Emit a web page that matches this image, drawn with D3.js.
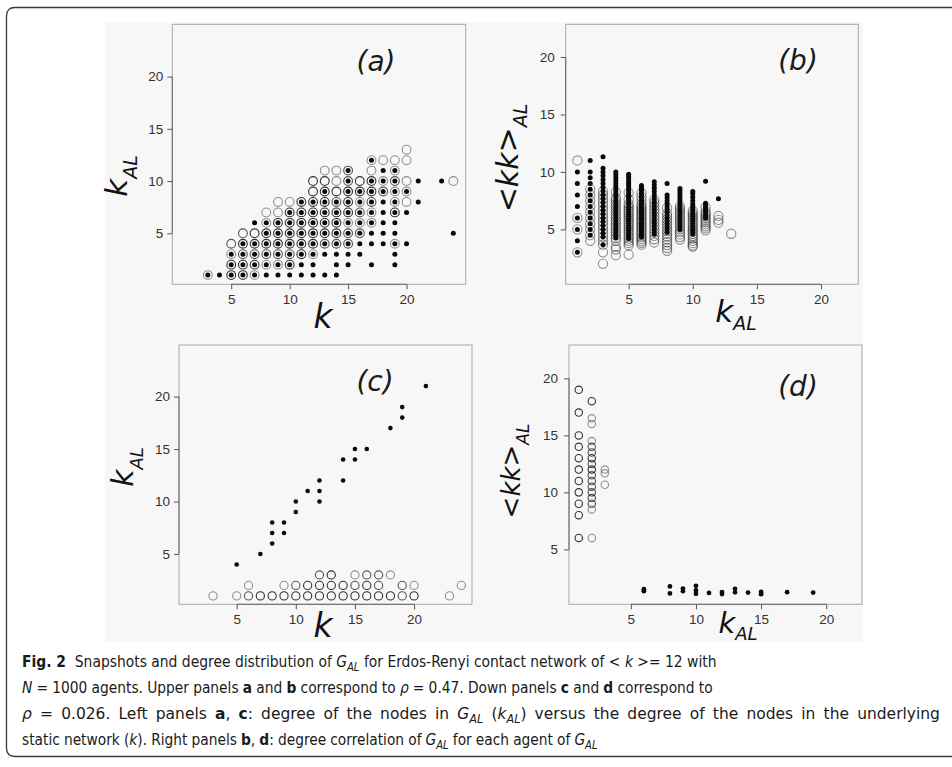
<!DOCTYPE html>
<html>
<head>
<meta charset="utf-8">
<script src="https://cdn.jsdelivr.net/npm/d3@7"></script>
<style>
  body { margin: 0; background: #fff; }
  text { white-space: pre; }
</style>
</head>
<body>
<svg id="fig" width="952" height="767"></svg>
<script>
// ---------------- data ----------------
const tickValues = [5, 10, 15, 20];

// (a) rho = 0.47 : degree k in static network vs degree k_AL in G_AL
// filled dots: [k, kAL]
const aDots = [
  [3,1],[4,1],[5,1],[6,1],[7,1],[8,1],[9,1],[10,1],[11,1],[12,1],[13,1],[14,1],
  [5,2],[6,2],[7,2],[8,2],[9,2],[10,2],[11,2],[12,2],[14,2],[15,2],[17,2],[19,2],
  [5,3],[6,3],[7,3],[8,3],[9,3],[10,3],[11,3],[12,3],[13,3],[14,3],[15,3],[16,3],[19,3],
  [6,4],[7,4],[8,4],[9,4],[10,4],[11,4],[12,4],[13,4],[14,4],[15,4],[16,4],[17,4],[18,4],[19,4],[20,4],
  [8,5],[9,5],[10,5],[11,5],[12,5],[13,5],[14,5],[15,5],[16,5],[17,5],[18,5],[19,5],[24,5],
  [7,6],[8,6],[9,6],[10,6],[11,6],[12,6],[13,6],[14,6],[15,6],[16,6],[17,6],[18,6],[19,6],
  [10,7],[11,7],[12,7],[13,7],[14,7],[15,7],[16,7],[17,7],[18,7],[19,7],[20,7],
  [11,8],[12,8],[13,8],[14,8],[15,8],[16,8],[17,8],[18,8],[19,8],[21,8],
  [13,9],[15,9],[16,9],[17,9],[18,9],[19,9],[20,9],
  [15,10],[17,10],[18,10],[19,10],[21,10],[23,10],
  [15,11],[18,11],[19,11],
  [17,12]
];
// open circles: [k, kAL, overlapping agents]
const aRings = [
  [3,1,1],[5,1,3],[6,1,3],[7,1,1],
  [5,2,3],[6,2,3],[7,2,3],[8,2,1],[9,2,1],[10,2,3],
  [5,3,1],[6,3,2],[7,3,2],[8,3,2],[9,3,2],[10,3,2],[11,3,3],[12,3,1],
  [5,4,2],[6,4,3],[7,4,3],[8,4,3],[9,4,3],[10,4,3],[11,4,3],[12,4,3],[13,4,2],[14,4,2],[15,4,2],[19,4,1],
  [6,5,2],[7,5,3],[8,5,3],[9,5,3],[10,5,3],[11,5,3],[12,5,3],[13,5,3],[14,5,3],[15,5,2],[16,5,2],
  [8,6,1],[9,6,3],[10,6,3],[11,6,3],[12,6,3],[13,6,3],[14,6,3],[15,6,1],[16,6,1],[17,6,1],
  [8,7,1],[9,7,1],[10,7,3],[11,7,3],[12,7,3],[13,7,3],[14,7,3],[15,7,3],[16,7,2],[17,7,1],[19,7,3],
  [9,8,1],[10,8,1],[11,8,3],[12,8,3],[13,8,3],[14,8,2],[15,8,3],[16,8,1],[17,8,2],[19,8,1],[20,8,1],
  [12,9,3],[13,9,3],[14,9,3],[15,9,3],[16,9,3],[17,9,3],[18,9,2],[19,9,1],[20,9,1],
  [12,10,3],[13,10,3],[14,10,1],[15,10,2],[16,10,3],[17,10,3],[18,10,1],[19,10,2],[20,10,1],[24,10,1],
  [13,11,1],[14,11,1],[15,11,2],[17,11,1],[19,11,1],
  [17,12,1],[18,12,1],[19,12,1],[20,12,1],
  [20,13,1]
];

// (b) rho = 0.47 : k_AL vs mean neighbour degree <kk>_AL, one column per k_AL
const bDotCols = [
  [1, [10, 9, 8, 7, 6, 5, 4, 3]],
  [2, [11, 10, 9.5, 9, 8.5, 8, 7.5, 7, 6.5, 6, 5.5, 5, 4.5]],
  [3, [11.33, 10.33, 10, 9.67, 9.33, 9, 8.67, 8.33, 8, 7.67, 7.33, 7, 6.67, 6.33, 6, 5.67, 5.33, 5, 4.67, 4.33, 3.67]],
  [4, [10, 9.75, 9.5, 9.25, 9, 8.75, 8.5, 8.25, 8, 7.75, 7.5, 7.25, 7, 6.75, 6.5, 6.25, 6, 5.75, 5.5, 5.25, 5, 4.75, 4.5, 4.25]],
  [5, [9.8, 9.6, 9.4, 9.2, 9, 8.8, 8.6, 8.4, 8.2, 8, 7.8, 7.6, 7.4, 7.2, 7, 6.8, 6.6, 6.4, 6.2, 6, 5.8, 5.6, 5.4, 5.2, 5, 4.8, 4.6, 4.4, 4.2]],
  [6, [8.83, 8.67, 8.5, 8.33, 8.17, 8, 7.83, 7.67, 7.5, 7.33, 7.17, 7, 6.83, 6.67, 6.5, 6.33, 6.17, 6, 5.83, 5.67, 5.5, 5.33, 5.17, 5, 4.83, 4.67, 4.5, 4.33]],
  [7, [9.14, 8.86, 8.57, 8.29, 8, 7.71, 7.43, 7.14, 6.86, 6.57, 6.29, 6, 5.71, 5.43, 5.14, 4.86, 4.57]],
  [8, [9, 8, 7.75, 7.5, 7.25, 7, 6.75, 6.5, 6.25, 6, 5.75, 5.5, 5.25, 5, 4.75]],
  [9, [8.56, 8.33, 8.11, 7.89, 7.67, 7.44, 7.22, 7, 6.78, 6.56, 6.33, 6.11, 5.89, 5.67, 5.44, 5.22, 5]],
  [10, [8.3, 8.1, 7.8, 7.5, 7.2, 7, 6.8, 6.6, 6.4, 6.2, 6, 5.8, 5.6, 5.4, 5.2, 5, 4.8, 4.6]],
  [11, [9.18, 7.27, 7.09, 6.91, 6.73, 6.55, 6.36, 6.18, 6]],
  [12, [7.67]]
];
const bRingCols = [
  [1, [11, 6, 5, 3]],
  [2, [8.5, 8, 7.5, 7, 6.5, 6, 5.5, 5, 4.5, 4]],
  [3, [8.33, 8, 7.67, 7.33, 7, 6.67, 6.33, 6, 5.67, 5.33, 5, 4.67, 4.33, 4, 3.67, 3, 2]],
  [4, [8.25, 7.75, 7.5, 7.25, 7, 6.75, 6.5, 6.25, 6, 5.75, 5.5, 5.25, 5, 4.75, 4.5, 4.25, 4, 3.5, 3.25, 2.75]],
  [5, [8.2, 7.6, 7.2, 7, 6.8, 6.6, 6.4, 6.2, 6, 5.8, 5.6, 5.4, 5.2, 5, 4.8, 4.6, 4.4, 4.2, 4, 3.8, 3.6, 2.8]],
  [6, [8.17, 7.83, 7.5, 7.17, 7, 6.83, 6.67, 6.5, 6.33, 6.17, 6, 5.83, 5.67, 5.5, 5.33, 5.17, 5, 4.83, 4.67, 4.5, 4.33, 4.17, 4, 3.83, 3.67]],
  [7, [7.57, 7.29, 7, 6.71, 6.43, 6.14, 5.86, 5.57, 5.29, 5, 4.71, 4.43, 4.14, 3.86]],
  [8, [6.88, 6.38, 6.13, 5.88, 5.63, 5.38, 5.13, 4.88, 4.63, 4.38, 4.13, 3.88, 3.63, 3.38, 3.13]],
  [9, [7, 6.78, 6.56, 6.33, 6.11, 5.89, 5.67, 5.44, 5.22, 5, 4.78, 4.56, 4.33, 4.11]],
  [10, [6.6, 6.4, 6.2, 6, 5.8, 5.6, 5.4, 5.2, 5, 4.8, 4.6, 4.4, 4.2, 4, 3.8, 3.6, 3.5]],
  [11, [6.91, 6.55, 6.36, 6.18, 6, 5.82, 5.64, 5.45, 5.27, 5.09, 4.91]],
  [12, [6.17, 5.83, 5.58]],
  [13, [4.62]]
];

// (c) rho = 0.026 : k vs k_AL
const cDots = [
  [5,4],[7,5],[8,6],[8,7],[8,8],[9,7],[9,8],[10,9],[10,10],[11,11],
  [12,10],[12,11],[12,12],[14,12],[14,14],[15,14],[15,15],[16,15],
  [18,17],[19,18],[19,19],[21,21]
];
const cRings = [
  [3,1,1],[5,1,1],[6,1,2],[7,1,3],[8,1,3],[9,1,3],[10,1,3],[11,1,3],[12,1,3],[13,1,3],
  [14,1,3],[15,1,3],[16,1,3],[17,1,3],[18,1,3],[19,1,2],[20,1,3],[23,1,1],
  [6,2,1],[9,2,1],[10,2,2],[11,2,3],[12,2,3],[13,2,3],[14,2,3],[15,2,2],[16,2,3],
  [17,2,2],[19,2,2],[20,2,1],[24,2,1],
  [12,3,2],[13,3,3],[15,3,1],[16,3,2],[17,3,2],[18,3,1]
];

// (d) rho = 0.026 : k_AL vs <kk>_AL
const dDots = [
  [6,1.33],[6,1.5],[8,1.75],[8,1.13],[9,1.33],[9,1.56],[10,1.8],[10,1.4],[10,1.1],
  [11,1.18],[12,1.25],[12,1.08],[13,1.54],[13,1.23],[14,1.21],[15,1.27],[15,1.07],
  [17,1.24],[19,1.21]
];
const dRings = [
  [1,19,3],[1,17,3],[1,15,3],[1,14,3],[1,13,3],[1,12,3],[1,11,3],[1,10,3],[1,9,3],[1,8,3],[1,6,3],
  [2,18,3],[2,16.5,1],[2,16,1],[2,14.5,1],[2,14,2],[2,13.5,2],[2,13,3],[2,12.5,2],[2,12,3],
  [2,11.5,2],[2,11,2],[2,10.5,2],[2,10,2],[2,9.5,2],[2,9,2],[2,8.5,1],[2,6,1],
  [3,12,1],[3,11.67,1],[3,10.67,1]
];

// caption, one array of [text, style] runs per line
const captionLines = [
  [["Fig. 2", "b"], ["  Snapshots and degree distribution of ", ""], ["G", "i"], ["AL", "s"],
   [" for Erdos-Renyi contact network of < ", ""], ["k", "i"], [" >= 12 with", ""]],
  [["N", "i"], [" = 1000 agents. Upper panels ", ""], ["a", "b"], [" and ", ""], ["b", "b"],
   [" correspond to ", ""], ["ρ", "i"], [" = 0.47. Down panels ", ""], ["c", "b"], [" and ", ""],
   ["d", "b"], [" correspond to", ""]],
  [["ρ", "i"], [" = 0.026. Left panels ", ""], ["a", "b"], [", ", ""], ["c", "b"],
   [": degree of the nodes in ", ""], ["G", "i"], ["AL", "s"], [" (", ""], ["k", "i"], ["AL", "s"],
   [") versus the degree of the nodes in the underlying", ""]],
  [["static network (", ""], ["k", "i"], ["). Right panels ", ""], ["b", "b"], [", ", ""], ["d", "b"],
   [": degree correlation of ", ""], ["G", "i"], ["AL", "s"], [" for each agent of ", ""], ["G", "i"], ["AL", "s"]]
];

// ---------------- drawing ----------------
const svg = d3.select("#fig");
const ITALIC = "'DejaVu Sans', Verdana, sans-serif";
const TICKFONT = "'Liberation Sans', Arial, Helvetica, sans-serif";
const RING_ALPHA = 0.42;

// figure frame (rounded on the left, open to the right edge)
svg.append("path")
  .attr("d", "M952,7.5 H15 Q6.5,7.5 6.5,16 V748 Q6.5,756.5 15,756.5 H952")
  .attr("fill", "none").attr("stroke", "#3a3a3a").attr("stroke-width", 1.3);

// light backdrop of the plot image
svg.append("rect").attr("x", 105).attr("y", 22).attr("width", 758).attr("height", 620)
  .attr("fill", "#f7f7f7");

const panels = [
  { id: "a", box: [172.3, 465.7, 24.3, 284.3], xd: [-0.04, 25.06], yd: [0.12, 25.0],
    dotR: 2.5, ringR: 4.4, pad: 4 },
  { id: "b", box: [565.7, 858.3, 24.3, 284.3], xd: [0.09, 22.91], yd: [0.22, 22.85],
    dotR: 2.5, ringR: 4.6, pad: 6 },
  { id: "c", box: [179, 472, 345, 604.3], xd: [0.12, 24.9], yd: [0.2, 24.92],
    dotR: 2.3, ringR: 4.1, pad: 4 },
  { id: "d", box: [569, 862, 345, 604.3], xd: [0.25, 22.75], yd: [0.18, 22.93],
    dotR: 2.4, ringR: 3.7, pad: 6 }
];

function ringOpacity(n) { return 1 - Math.pow(1 - RING_ALPHA, n); }

function drawPanel(p, dots, rings) {
  const [x0, x1, y0, y1] = p.box;
  const x = d3.scaleLinear().domain(p.xd).range([x0, x1]);
  const y = d3.scaleLinear().domain(p.yd).range([y1, y0]);
  const g = svg.append("g").attr("class", "panel-" + p.id);

  g.append("rect").attr("x", x0).attr("y", y0).attr("width", x1 - x0).attr("height", y1 - y0)
    .attr("fill", "none").attr("stroke", "#a8a8a8").attr("stroke-width", 1);

  const styleAxis = sel => {
    sel.select(".domain").remove();
    sel.selectAll(".tick line").attr("stroke", "#555");
    sel.selectAll(".tick text").attr("fill", "#333").attr("font-size", 13.5)
      .attr("font-family", TICKFONT);
  };
  g.append("g").attr("transform", `translate(0,${y1})`)
    .call(d3.axisBottom(x).tickValues(tickValues).tickSize(5).tickPadding(5).tickFormat(d3.format("d")))
    .call(styleAxis);
  g.append("g").attr("transform", `translate(${x0},0)`)
    .call(d3.axisLeft(y).tickValues(tickValues).tickSize(5).tickPadding(p.pad).tickFormat(d3.format("d")))
    .call(styleAxis);
  // axis lines between the outer ticks
  g.append("line").attr("x1", x(tickValues[0])).attr("x2", x(tickValues[tickValues.length - 1]))
    .attr("y1", y1).attr("y2", y1).attr("stroke", "#666");
  g.append("line").attr("y1", y(tickValues[0])).attr("y2", y(tickValues[tickValues.length - 1]))
    .attr("x1", x0).attr("x2", x0).attr("stroke", "#666");

  g.append("g").selectAll("circle").data(rings).join("circle")
    .attr("cx", d => x(d[0])).attr("cy", d => y(d[1])).attr("r", p.ringR)
    .attr("fill", "none").attr("stroke", "#000").attr("stroke-width", 1.1)
    .attr("stroke-opacity", d => ringOpacity(d[2]));
  g.append("g").selectAll("circle").data(dots).join("circle")
    .attr("cx", d => x(d[0])).attr("cy", d => y(d[1])).attr("r", p.dotR)
    .attr("fill", "#0a0a0a");
}

// flatten the column lists of panel (b)
const bDots = bDotCols.flatMap(([k, vs]) => vs.map(v => [k, v]));
const bRings = bRingCols.flatMap(([k, vs]) => vs.map(v => [k, v, 1]));

drawPanel(panels[0], aDots, aRings);
drawPanel(panels[1], bDots, bRings);
drawPanel(panels[2], cDots, cRings);
drawPanel(panels[3], dDots, dRings);

// panel letters
[["(a)", 376, 71], ["(b)", 798, 70], ["(c)", 375, 391], ["(d)", 798, 396]].forEach(([t, cx, by]) => {
  svg.append("text").attr("x", cx).attr("y", by).attr("text-anchor", "middle")
    .attr("font-family", ITALIC).attr("font-style", "italic").attr("font-size", 28)
    .attr("fill", "#1a1a1a").text(t);
});

// axis titles: main symbol plus optional subscript
function title(cx, cy, main, sub, size, subSize, subDrop, rotate) {
  const t = svg.append("text")
    .attr("transform", `translate(${cx},${cy})` + (rotate ? " rotate(-90)" : ""))
    .attr("text-anchor", "middle").attr("font-family", ITALIC).attr("font-style", "italic")
    .attr("fill", "#111");
  t.append("tspan").attr("font-size", size).text(main);
  if (sub) t.append("tspan").attr("font-size", subSize).attr("dy", subDrop).text(sub);
}
title(323, 328, "k", null, 33);
title(323, 637, "k", null, 33);
title(736, 322, "k", "AL", 31, 19, 8);
title(738, 633, "k", "AL", 29, 18, 7);
title(127, 176, "k", "AL", 31, 19, 10, true);
title(133, 467, "k", "AL", 30, 18, 10, true);
title(518, 158, "<kk>", "AL", 30, 19, 9, true);
title(520, 471, "<kk>", "AL", 26, 17, 9, true);

// caption: glyph width follows the first line, the rest of each line's
// measure is split between glyph stretch and word spacing
const capX = 22, capBase = [667, 693, 719, 745], capWidth = [695, 691, 918, 576];
let capScale = null;
captionLines.forEach((runs, i) => {
  const t = svg.append("text")
    .attr("font-family", "'Liberation Sans Narrow', 'DejaVu Sans Condensed', 'Noto Sans', sans-serif")
    .attr("font-size", 16.5).attr("fill", "#1a1a1a");
  let shift = 0;
  runs.forEach(([s, st]) => {
    const sp = t.append("tspan").text(s);
    const target = st === "s" ? 4 : 0;
    if (target !== shift) { sp.attr("dy", target - shift); shift = target; }
    if (st === "b") sp.attr("font-weight", "bold");
    if (st === "i" || st === "s") sp.attr("font-style", "italic");
    if (st === "s") sp.attr("font-size", 12);
  });
  const w = t.node().getComputedTextLength();
  if (capScale === null) capScale = capWidth[0] / w;
  const fit = capWidth[i] / w;
  const s = capScale + 0.55 * (fit - capScale);
  const spaces = runs.map(r => r[0]).join("").split(" ").length - 1;
  const extra = (capWidth[i] / s - w) / spaces;
  t.attr("word-spacing", extra)
    .attr("transform", `translate(${capX},${capBase[i]}) scale(${s},1)`);
});
</script>
</body>
</html>
